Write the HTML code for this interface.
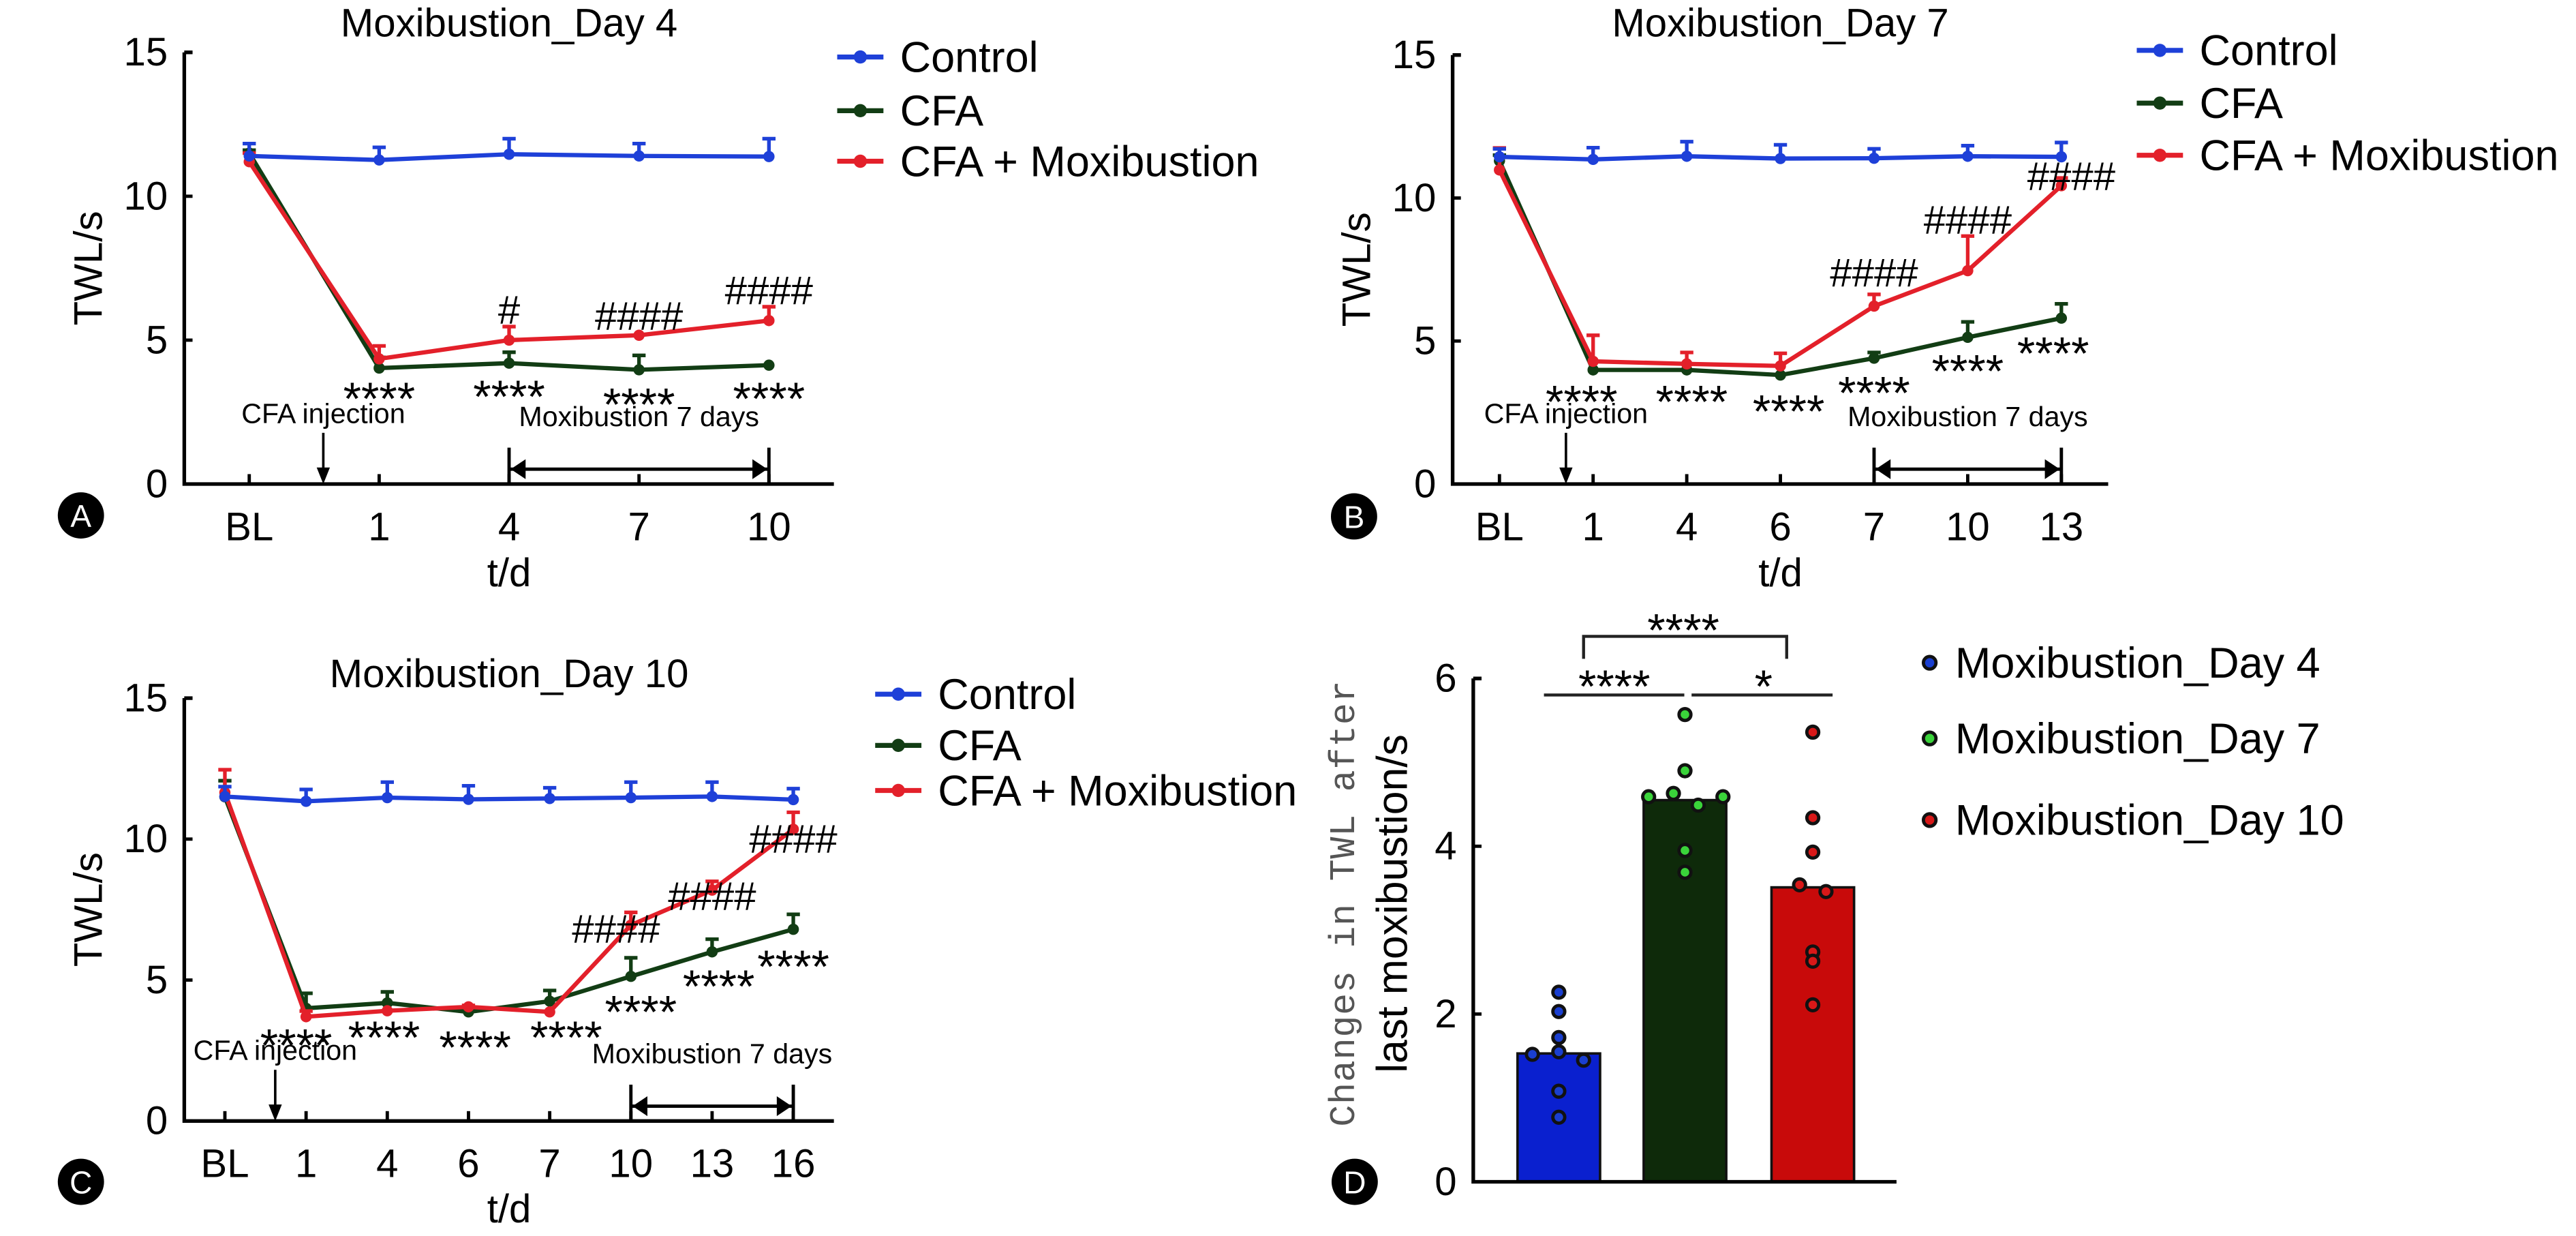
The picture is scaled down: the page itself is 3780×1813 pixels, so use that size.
<!DOCTYPE html>
<html><head><meta charset="utf-8"><style>
html,body{margin:0;padding:0;background:#fff;}
svg{display:block;}
text{font-family:"Liberation Sans Narrow","Liberation Sans",sans-serif;}
</style></head><body>
<svg id="fig" xmlns="http://www.w3.org/2000/svg" width="3780" height="1813" viewBox="0 0 1560 748.2" preserveAspectRatio="none">
</svg>
<script>
// ---------- Panel A data ----------
const catsA = ["BL","1","4","7","10"];
const ctrlA = [11.4,11.26,11.46,11.4,11.38];
const ctrlErrA = [11.83,11.7,12.0,11.83,12.0];
const cfaA = [11.5,4.03,4.2,3.97,4.13];
const cfaErrA = [11.6,4.4,4.58,4.47,4.13];
const moxA = [11.2,4.35,5.0,5.17,5.68];
const moxErrA = [11.5,4.8,5.47,5.17,6.16];
const starsA = [null,3.28,3.35,3.08,3.28];
const hashA = [null,null,6.09,5.88,6.77];
const hashTextA = ["","","#","####","####"];
// ---------- Panel B data ----------
const catsB = ["BL","1","4","6","7","10","13"];
const ctrlB = [11.44,11.35,11.46,11.38,11.39,11.46,11.44];
const ctrlErrB = [11.72,11.76,11.97,11.86,11.72,11.83,11.94];
const cfaB = [11.3,3.99,3.99,3.81,4.4,5.13,5.8];
const cfaErrB = [11.5,3.99,3.99,3.81,4.6,5.67,6.3];
const moxB = [10.98,4.29,4.2,4.13,6.22,7.46,10.43];
const moxErrB = [11.75,5.2,4.6,4.57,6.63,8.67,10.7];
const starsB = [null,3.19,3.19,2.86,3.5,4.26,4.88];
const hashB = [null,null,null,null,7.43,9.28,10.8];
const hashTextB = ["","","","","####","####","####"];
// ---------- Panel C data ----------
const catsC = ["BL","1","4","6","7","10","13","16"];
const ctrlC = [11.51,11.34,11.47,11.41,11.44,11.47,11.51,11.4];
const ctrlErrC = [11.86,11.76,12.02,11.89,11.82,12.02,12.02,11.79];
const cfaC = [11.5,4.0,4.19,3.87,4.25,5.13,6.0,6.8];
const cfaErrC = [12.07,4.53,4.58,3.87,4.63,5.79,6.45,7.33];
const moxC = [11.65,3.7,3.91,4.05,3.87,6.95,8.19,10.35];
const moxErrC = [12.46,3.9,3.91,4.1,3.87,7.4,8.5,10.95];
const starsC = [null,3.0,3.28,2.93,3.28,4.19,5.09,5.79];
const hashC = [null,null,null,null,null,6.86,8.02,10.05];
const hashTextC = ["","","","","","####","####","####"];
// ---------- Panel D data ----------
const groupsD = ["Moxibustion_Day 4","Moxibustion_Day 7","Moxibustion_Day 10"];
const barsD = [1.53,4.55,3.51];
const ptsD4 = [2.26,2.03,1.72,1.55,1.52,1.45,1.08,0.77];
const ptsD7 = [5.57,4.9,4.63,4.59,4.59,4.49,3.95,3.69];
const ptsD10 = [5.36,4.34,3.93,3.54,3.46,2.74,2.63,2.11];
const ticksD = [0,2,4,6];
const ticksLine = [0,5,10,15];

const NS="http://www.w3.org/2000/svg";
const svg=document.getElementById('fig');
function el(tag,attrs,parent,txt){const e=document.createElementNS(NS,tag);for(const k in attrs)e.setAttribute(k,attrs[k]);if(txt!==undefined)e.textContent=txt;(parent||svg).appendChild(e);return e;}

const C_BLUE="#1e40d8",C_GREEN="#123d14",C_RED="#e3202a";

function linePanel(o){
  const g=el('g',{});
  
  
  const n=o.cats.length, step=(o.x1-o.x0)/n;
  const X=i=>o.x0+step*(i+0.5);
  const Y=v=>o.y0-(o.y0-o.y15)*v/15;
  const t=el('text',{x:(o.x0+o.x1)/2,y:o.titleY,'font-size':24,'text-anchor':'middle'},g,o.title);
  
  const ax=el('path',{d:`M${o.x0} ${o.y15}H${o.x0+5}M${o.x0} ${o.y15}V${o.y0}H${o.x1}`,stroke:'#000','stroke-width':2.2,fill:'none'},g);
  
  ticksLine.forEach(v=>{
    el('line',{x1:o.x0,x2:o.x0+5,y1:Y(v),y2:Y(v),stroke:'#000','stroke-width':2},g);
    const tl=el('text',{x:o.x0-10,y:Y(v)+8,'font-size':24,'text-anchor':'end'},g,String(v));
    
  });
  o.cats.forEach((c,i)=>{
    el('line',{x1:X(i),x2:X(i),y1:o.y0,y2:o.y0-6,stroke:'#000','stroke-width':2},g);
    const tl=el('text',{x:X(i),y:o.y0+34,'font-size':24,'text-anchor':'middle'},g,c);
    
  });
  const xt=el('text',{x:X((n-1)/2),y:o.xTitleY,'font-size':24,'text-anchor':'middle'},g,'t/d');
  
  const yt=el('text',{x:0,y:0,'font-size':24,'text-anchor':'middle',transform:`translate(${o.x0-50},${(o.y0+o.y15)/2}) rotate(-90)`,style:'font-family:"Liberation Sans",sans-serif'},g,'TWL/s');
  
  const series=[[o.cfa,o.cfaErr,C_GREEN,'cfa'],[o.mox,o.moxErr,C_RED,'cfa-moxibustion'],[o.ctrl,o.ctrlErr,C_BLUE,'control']];
  series.forEach(([vals,errs,col,nm])=>{
    const sg=el('g',{},g);
    
    vals.forEach((v,i)=>{
      if(errs[i]>v){el('path',{d:`M${X(i)} ${Y(v)}V${Y(errs[i])}M${X(i)-4} ${Y(errs[i])}H${X(i)+4}`,stroke:col,'stroke-width':2.2,fill:'none'},sg);}
    });
    el('polyline',{points:vals.map((v,i)=>X(i)+','+Y(v)).join(' '),stroke:col,'stroke-width':2.6,fill:'none'},sg);
    vals.forEach((v,i)=>{const p=el('circle',{cx:X(i),cy:Y(v),r:3.4,fill:col},sg);
      });
  });
  o.stars.forEach((v,i)=>{if(v==null)return;
    const s=el('text',{x:X(i)+(o.starDx?o.starDx[i]:0),y:Y(v)+15,'font-size':28,'text-anchor':'middle'},g,'****');
    });
  o.hash.forEach((v,i)=>{if(v==null)return;
    const s=el('text',{x:X(i)+(o.hashDx?o.hashDx[i]:0),y:Y(v)+9,'font-size':24,'text-anchor':'middle'},g,o.hashText[i]);
    });
  const ax0=X(o.arrowF);
  const ci=el('text',{x:ax0,y:o.y0-37,'font-size':17,'text-anchor':'middle'},g,'CFA injection');
  
  el('path',{d:`M${ax0} ${o.y0-31}V${o.y0-6}`,stroke:'#000','stroke-width':1.5},g);
  el('path',{d:`M${ax0-4} ${o.y0-10}L${ax0+4} ${o.y0-10}L${ax0} ${o.y0}Z`,fill:'#000'},g);
  const bx0=X(o.br[0]),bx1=X(o.br[1]),by=o.y0-9;
  const ml=el('text',{x:(bx0+bx1)/2,y:o.y0-35,'font-size':17,'text-anchor':'middle'},g,'Moxibustion 7 days');
  
  const br=el('g',{},g);
  el('path',{d:`M${bx0} ${o.y0}V${o.y0-22}M${bx1} ${o.y0}V${o.y0-22}M${bx0} ${by}H${bx1}`,stroke:'#000','stroke-width':2},br);
  el('path',{d:`M${bx0+1} ${by}l9 -6v12Z M${bx1-1} ${by}l-9 -6v12Z`,fill:'#000'},br);
  const names=['Control','CFA','CFA + Moxibustion'],cols=[C_BLUE,C_GREEN,C_RED];
  names.forEach((nm,k)=>{
    const lg=el('g',{},g);
    const ly=o.legY[k];
    el('line',{x1:o.legX,x2:o.legX+28,y1:ly,y2:ly,stroke:cols[k],'stroke-width':3},lg);
    el('circle',{cx:o.legX+14,cy:ly,r:4,fill:cols[k]},lg);
    el('text',{x:o.legX+38,y:ly+9,'font-size':26},lg,nm);
  });
  const b=el('g',{},g);
  el('circle',{cx:o.badge[0],cy:o.badge[1],r:14,fill:'#000'},b);
  el('text',{x:o.badge[0],y:o.badge[1]+7,'font-size':19,fill:'#fff','text-anchor':'middle'},b,o.letter);
}

linePanel({name:'panel-a',title:'Moxibustion_Day 4',letter:'A',x0:111.6,x1:505,y0:293,y15:31.7,titleY:22,xTitleY:355,
  cats:catsA,ctrl:ctrlA,ctrlErr:ctrlErrA,cfa:cfaA,cfaErr:cfaErrA,mox:moxA,moxErr:moxErrA,stars:starsA,hash:hashA,hashText:hashTextA,
  arrowF:0.57,br:[2,4],legX:507,legY:[34.5,67,97.6],badge:[49,312]});
linePanel({name:'panel-b',title:'Moxibustion_Day 7',letter:'B',x0:879.7,x1:1276.7,y0:293,y15:33.3,titleY:22,xTitleY:355,
  cats:catsB,ctrl:ctrlB,ctrlErr:ctrlErrB,cfa:cfaB,cfaErr:cfaErrB,mox:moxB,moxErr:moxErrB,stars:starsB,hash:hashB,hashText:hashTextB,
  starDx:[0,-7,3,5,0,0,-5],hashDx:[0,0,0,0,0,0,6],
  arrowF:0.71,br:[4,6],legX:1294,legY:[30.5,62.4,94],badge:[820,312.6]});
linePanel({name:'panel-c',title:'Moxibustion_Day 10',letter:'C',x0:111.6,x1:505,y0:678.6,y15:422.6,titleY:416,xTitleY:740,
  cats:catsC,ctrl:ctrlC,ctrlErr:ctrlErrC,cfa:cfaC,cfaErr:cfaErrC,mox:moxC,moxErr:moxErrC,stars:starsC,hash:hashC,hashText:hashTextC,
  starDx:[0,-6,-2,4,10,6,4,0],hashDx:[0,0,0,0,0,-9,0,0],
  arrowF:0.62,br:[5,7],legX:530,legY:[420.2,451.2,478.5],badge:[49,715.4]});

// ---------- Panel D ----------
(function(){
  const g=el('g',{});
  const x0=892.2,x1=1148.5,y0=715.4,y6=410.7;
  const Y=v=>y0-(y0-y6)*v/6;
  const centers=[944,1020.4,1097.8],bw=50;
  const barCols=["#0a20cf","#0e2a0a","#c80a0a"],dotCols=["#1a3fd0","#3ad33a","#d81818"];
  const jitter=[[0,0,0,0,-16,15,0,0],[0,0,-7,-22,23,8,0,0],[0,0,0,-8,8,0,0,0]];
  const pts=[ptsD4,ptsD7,ptsD10];
  barsD.forEach((v,i)=>{
    const r=el('rect',{x:centers[i]-bw/2,y:Y(v),width:bw,height:y0-Y(v),fill:barCols[i],stroke:'#111','stroke-width':1.5},g);
    
  });
  pts.forEach((arr,i)=>arr.forEach((v,k)=>{
    const c=el('circle',{cx:centers[i]+jitter[i][k],cy:Y(v),r:3.6,fill:dotCols[i],stroke:'#111','stroke-width':2},g);
    
  }));
  el('path',{d:`M${x0} ${y6}H${x0+5}M${x0} ${y6}V${y0}H${x1}`,stroke:'#000','stroke-width':2.2,fill:'none'},g);
  ticksD.forEach(v=>{
    el('line',{x1:x0,x2:x0+5,y1:Y(v),y2:Y(v),stroke:'#000','stroke-width':2},g);
    const t=el('text',{x:x0-10,y:Y(v)+8,'font-size':24,'text-anchor':'end'},g,String(v));
    
  });
  const y1=el('text',{x:0,y:0,'font-size':22,fill:'#555','text-anchor':'middle',textLength:270,lengthAdjust:'spacing',transform:'translate(820,547) rotate(-90)',style:'font-family:"Liberation Mono",monospace'},g,'Changes in TWL after');
  
  const y2=el('text',{x:0,y:0,'font-size':26,'text-anchor':'middle',textLength:205,lengthAdjust:'spacingAndGlyphs',transform:'translate(852,547) rotate(-90)',style:'font-family:"Liberation Sans",sans-serif'},g,'last moxibustion/s');
  
  const sg=el('g',{},g);
  el('path',{d:'M935 420.7H1020M1024.4 420.7H1109.8M959 398.8V385.2H1082V398.8',stroke:'#222','stroke-width':1.8,fill:'none'},sg);
  el('text',{x:977.6,y:425,'font-size':28,'text-anchor':'middle'},sg,'****');
  el('text',{x:1068,y:425,'font-size':28,'text-anchor':'middle'},sg,'*');
  el('text',{x:1019.4,y:391,'font-size':28,'text-anchor':'middle'},sg,'****');
  const ly=[401.2,447,496.4];
  groupsD.forEach((nm,k)=>{
    const lg=el('g',{},g);
    el('circle',{cx:1168.6,cy:ly[k],r:3.8,fill:dotCols[k],stroke:'#111','stroke-width':2},lg);
    el('text',{x:1184,y:ly[k]+9,'font-size':26},lg,nm);
  });
  const b=el('g',{},g);
  el('circle',{cx:820.4,cy:715.4,r:14,fill:'#000'},b);
  el('text',{x:820.4,y:722.4,'font-size':19,fill:'#fff','text-anchor':'middle'},b,'D');
})();
</script>
</body></html>
